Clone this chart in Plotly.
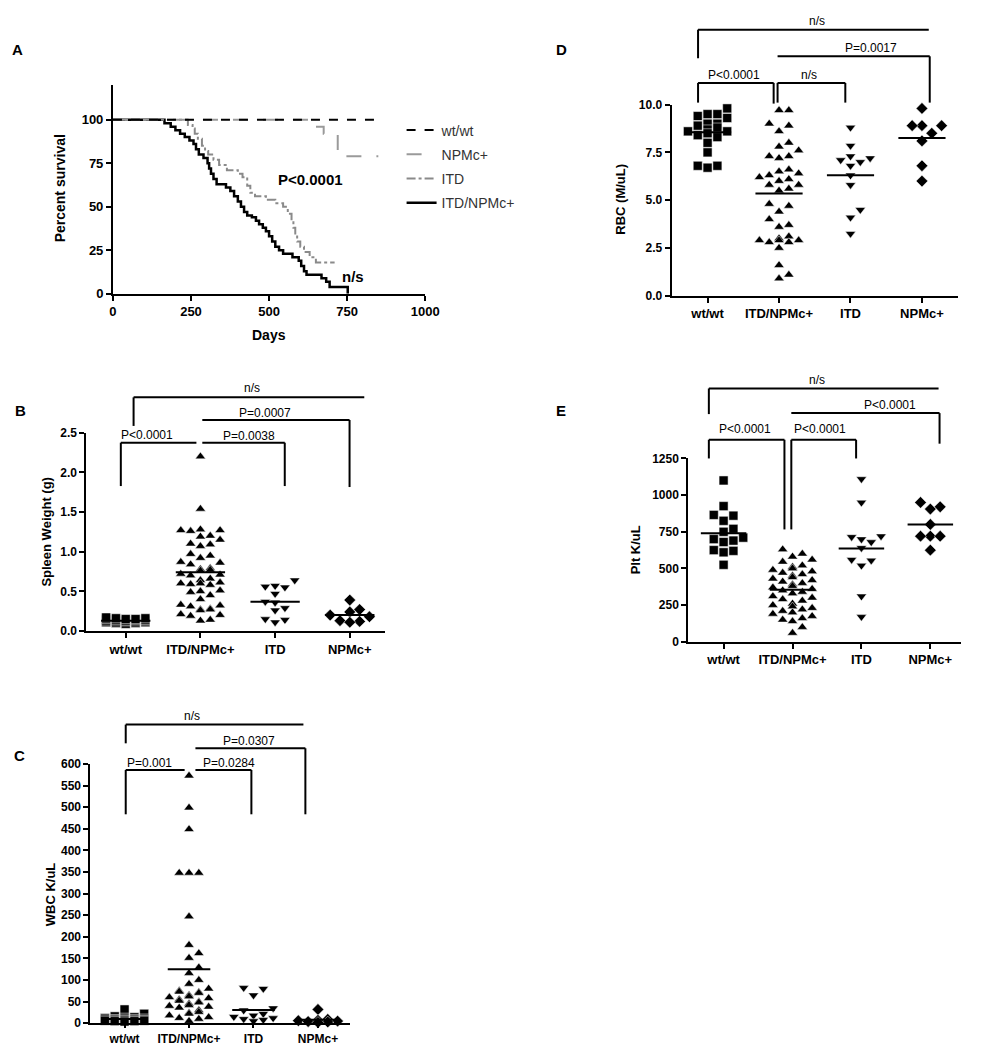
"""Survival curve and blood count dot plots for wt/wt, ITD, NPMc+ and ITD/NPMc+ mice."""
import plotly.graph_objects as go

W, H = 983, 1050
FONT = "Liberation Sans"

# ---- panel A: Kaplan-Meier survival (day, percent) ----
wt_days = [0, 850]
wt_pct = [100, 100]
npm_days = [0, 630, 632, 675, 720, 850]
npm_pct = [100, 100, 96, 92, 79, 79]
itd_days = [0, 225, 240, 255, 262, 272, 285, 295, 305, 322, 340, 365, 400, 415, 430,
            440, 455, 490, 520, 545, 560, 572, 578, 584, 590, 600, 612, 630, 650, 710]
itd_pct = [100, 100, 97, 95, 92, 89, 85, 82, 80, 77, 74, 71, 69, 67, 62,
           58, 56, 54, 52, 50, 46, 42, 38, 34, 30, 27, 24, 21, 18, 18]
dbl_days = [0, 165, 185, 200, 215, 230, 245, 258, 266, 275, 290, 303, 308, 314, 322,
            332, 362, 376, 388, 400, 410, 420, 430, 445, 458, 468, 480, 490, 500, 510,
            520, 532, 545, 575, 595, 603, 612, 620, 668, 683, 694, 752]
dbl_pct = [100, 98, 96, 94, 92, 90, 88, 86, 83, 80, 78, 75, 72, 69, 66,
           63, 61, 59, 56, 53, 50, 47, 45, 44, 42, 40, 38, 36, 33, 30,
           27, 25, 23, 21, 19, 16, 13, 11, 9, 7, 4, 0]

groups = ["wt/wt", "ITD/NPMc+", "ITD", "NPMc+"]
symbols = ["square", "triangle-up", "triangle-down", "diamond"]

# ---- panel B: spleen weight (g) ----
b_wt = [0.09, 0.10, 0.10, 0.11, 0.11, 0.12, 0.12, 0.12, 0.13, 0.13, 0.13, 0.14, 0.14,
        0.14, 0.15, 0.15, 0.15, 0.16, 0.16, 0.17]
b_dbl = [2.20, 1.54, 1.28, 1.27, 1.27, 1.26, 1.20, 1.19, 1.15, 1.10, 1.09, 1.07, 0.97,
         0.95, 0.92, 0.87, 0.86, 0.84, 0.79, 0.78, 0.77, 0.76, 0.72, 0.71, 0.70, 0.66,
         0.64, 0.61, 0.60, 0.60, 0.59, 0.58, 0.51, 0.50, 0.49, 0.45, 0.40, 0.33, 0.32,
         0.31, 0.28, 0.27, 0.27, 0.26, 0.21, 0.20, 0.19, 0.14, 0.13]
b_itd = [0.64, 0.57, 0.56, 0.55, 0.47, 0.37, 0.36, 0.29, 0.26, 0.15, 0.11, 0.14]
b_npm = [0.39, 0.27, 0.24, 0.20, 0.18, 0.13, 0.12, 0.11]
b_mean = [0.13, 0.74, 0.37, 0.20]

# ---- panel C: WBC K/uL ----
c_wt = [32, 22, 16, 14, 13, 12, 11, 10, 10, 9, 9, 8, 8, 7, 7, 6, 6, 5, 5, 4]
c_dbl = [573, 499, 449, 348, 348, 348, 247, 181, 162, 151, 129, 116, 100, 91, 80, 75,
         73, 72, 70, 65, 62, 60, 58, 55, 52, 50, 48, 45, 42, 40, 38, 36, 30, 26, 24,
         22, 18, 14, 12, 10, 5]
c_itd = [82, 80, 65, 35, 30, 22, 18, 15, 12, 10, 8, 5]
c_npm = [32, 9, 7, 6, 5, 4, 3, 2]
c_mean = [10, 125, 31, 8]

# ---- panel D: RBC (M/uL) ----
d_wt = [9.8, 9.5, 9.4, 9.5, 9.3, 9.0, 8.9, 9.0, 8.8, 8.7, 8.6, 8.5, 8.6, 8.3, 8.4,
        8.0, 7.5, 6.8, 6.7, 6.8]
d_dbl = [9.7, 9.7, 9.0, 8.6, 8.9, 8.0, 7.8, 7.6, 7.3, 7.3, 7.2, 6.6, 6.5, 6.4, 6.2,
         6.3, 6.1, 6.0, 5.8, 5.8, 5.5, 5.6, 4.8, 4.7, 4.4, 4.0, 3.7, 3.6, 3.1, 3.0,
         2.9, 2.9, 2.8, 2.8, 2.9, 2.5, 1.6, 1.1, 0.9]
d_itd = [8.8, 7.85, 7.3, 7.2, 7.1, 7.0, 6.8, 6.3, 5.8, 4.5, 4.1, 3.25]
d_npm = [9.8, 8.9, 8.9, 8.9, 8.5, 8.1, 6.8, 6.0]
d_mean = [8.55, 5.35, 6.3, 8.25]

# ---- panel E: Plt K/uL ----
e_wt = [1100, 925, 865, 860, 825, 770, 750, 710, 700, 690, 680, 625, 620, 610, 525]
e_dbl = [630, 600, 580, 560, 545, 520, 510, 500, 490, 480, 470, 460, 450, 440, 430,
         420, 410, 400, 390, 380, 370, 360, 350, 340, 330, 310, 300, 290, 280, 260,
         250, 240, 230, 220, 210, 200, 190, 175, 160, 150, 140, 100, 60]
e_itd = [1110, 950, 720, 715, 700, 680, 640, 560, 555, 520, 310, 170]
e_npm = [950, 920, 905, 800, 720, 720, 720, 625]
e_mean = [740, 355, 636, 800]


def swarm(values, center, ppx, ppy, step=10, h=8, maxk=2):
    """spread points sideways in columns where they would overlap (no randomness)"""
    order = sorted(range(len(values)), key=lambda i: values[i])
    cands = [0] + [s * k for k in range(1, maxk + 1) for s in (1, -1)]
    placed = []
    xs = [center] * len(values)
    for i in order:
        y = values[i] * ppy
        hits = {c: sum(1 for pc, yy in placed if pc == c and abs(yy - y) < h) for c in cands}
        col = next((c for c in cands if hits[c] == 0), None)
        if col is None:
            col = min(cands, key=lambda c: hits[c])
        placed.append((col, y))
        xs[i] = center + col * step / ppx
    return xs


# panel boxes in pixels: x0, x1, ytop, ybottom, xrange, yrange
panels = {
    "A": (111, 429, 79, 291, [0, 1000], [0, 120]),
    "B": (84, 388, 432, 633, [-0.526, 3.47], [0, 2.5]),
    "C": (88, 352, 768, 1031, [-0.53, 3.49], [0, 600]),
    "D": (680, 972, 99, 293, [-0.504, 3.507], [0, 10]),
    "E": (697, 975, 458, 644, [-0.513, 3.447], [0, 1250]),
}
axis_id = {"A": "", "B": "2", "C": "3", "D": "4", "E": "5"}

fig = go.Figure()

# survival curves
surv = [
    ("wt/wt", wt_days, wt_pct, "black", "dash", 2),
    ("NPMc+", npm_days, npm_pct, "#9a9a9a", "longdash", 2),
    ("ITD", itd_days, itd_pct, "#8a8a8a", "dashdot", 2),
    ("ITD/NPMc+", dbl_days, dbl_pct, "black", "solid", 2.5),
]
for rank, (name, dx, dy, col, dash, w) in reversed(list(enumerate(surv))):
    fig.add_trace(go.Scatter(x=dx, y=dy, name=name, mode="lines", line_shape="hv",
                             line=dict(color=col, dash=dash, width=w),
                             legendgroup=name, legendrank=rank + 1, cliponaxis=False))

dot_data = {
    "B": ([b_wt, b_dbl, b_itd, b_npm], b_mean),
    "C": ([c_wt, c_dbl, c_itd, c_npm], c_mean),
    "D": ([d_wt, d_dbl, d_itd, d_npm], d_mean),
    "E": ([e_wt, e_dbl, e_itd, e_npm], e_mean),
}
for key, (sets, means) in dot_data.items():
    x0, x1, yt, yb, xr, yr = panels[key]
    ppx = (x1 - x0) / (xr[1] - xr[0])
    ppy = (yb - yt) / (yr[1] - yr[0])
    n = axis_id[key]
    for i, vals in enumerate(sets):
        fig.add_trace(go.Scatter(
            x=swarm(vals, i, ppx, ppy), y=vals, mode="markers", showlegend=False,
            marker=dict(symbol=symbols[i], size=9, color="black",
                        line=dict(color="white", width=0.5)),
            cliponaxis=False, xaxis="x" + n, yaxis="y" + n))
    mx, my = [], []
    for i, m in enumerate(means):
        mx += [i - 0.33, i + 0.33, None]
        my += [m, m, None]
    fig.add_trace(go.Scatter(x=mx, y=my, mode="lines", showlegend=False,
                             line=dict(color="black", width=2), cliponaxis=False,
                             xaxis="x" + n, yaxis="y" + n))

ax_common = dict(showline=True, linecolor="black", linewidth=2, ticks="outside",
                 ticklen=5, tickwidth=2, tickcolor="black", showgrid=False,
                 zeroline=False, fixedrange=True)
tick12 = dict(family=FONT, size=12, color="black", weight="bold")
tick13 = dict(family=FONT, size=13, color="black", weight="bold")

layout = {}
for key, (x0, x1, yt, yb, xr, yr) in panels.items():
    n = axis_id[key]
    xa = dict(ax_common, domain=[x0 / W, x1 / W], range=xr, anchor="y" + n)
    ya = dict(ax_common, domain=[1 - yb / H, 1 - yt / H], range=yr, anchor="x" + n)
    if key == "A":
        xa.update(tickvals=[0, 250, 500, 750, 1000], tickfont=tick13)
        ya.update(tickvals=[0, 25, 50, 75, 100], tickfont=tick13)
    else:
        xa.update(tickvals=[0, 1, 2, 3], ticktext=groups,
                  tickfont=tick12 if key == "C" else tick13)
        ya.update(tickfont=tick12)
    layout["xaxis" + n] = xa
    layout["yaxis" + n] = ya

layout["xaxis3"].update(ticklen=3)
layout["yaxis2"].update(tickvals=[0, 0.5, 1.0, 1.5, 2.0, 2.5], tickformat=".1f")
layout["yaxis3"].update(tickvals=list(range(0, 601, 50)))
layout["yaxis4"].update(tickvals=[0, 2.5, 5, 7.5, 10], tickformat=".1f")
layout["yaxis5"].update(tickvals=[0, 250, 500, 750, 1000, 1250])

fig.update_layout(
    width=W, height=H, margin=dict(l=0, r=0, t=0, b=0),
    paper_bgcolor="white", plot_bgcolor="white",
    font=dict(family=FONT, color="black"),
    legend=dict(x=405 / W, y=1 - 109 / H, xanchor="left", yanchor="top",
                font=dict(family=FONT, size=14, color="#333333"),
                bgcolor="rgba(0,0,0,0)", tracegroupgap=3, itemwidth=30),
    **layout,
)

# significance brackets: x_left, x_right, y, left drop, right drop, label, label x, label y
brackets = [
    (132, 367, 396, 425, None, "n/s", 253, 387),
    (202, 352, 419, None, 487, "P=0.0007", 266, 412),
    (119, 196, 442, 486, None, "P<0.0001", 146, 434),
    (202, 286, 442, None, 486, "P=0.0038", 250, 435),
    (124, 305, 728, 747, None, "n/s", 192, 719),
    (195, 307, 752, None, 819, "P=0.0307", 250, 745),
    (124, 184, 774, 819, None, "P=0.001", 148, 767),
    (195, 252, 774, None, 819, "P=0.0284", 229, 767),
    (707, 942, 23, 52, None, "n/s", 828, 14),
    (788, 943, 50, None, 97, "P=0.0017", 883, 42),
    (707, 784, 77, 97, 98, "P<0.0001", 744, 69),
    (788, 857, 77, 97, 97, "n/s", 820, 69),
    (718, 952, 387, 413, None, "n/s", 828, 378),
    (802, 953, 412, None, 443, "P<0.0001", 903, 404),
    (718, 795, 439, 458, 530, "P<0.0001", 755, 428),
    (802, 868, 439, 530, 458, "P<0.0001", 831, 428),
]
line = dict(color="black", width=2)
for xl, xr_, y, dl, dr, lab, lx, ly in brackets:
    fig.add_shape(type="line", xref="paper", yref="paper", x0=xl / W, x1=xr_ / W,
                  y0=1 - y / H, y1=1 - y / H, line=line)
    if dl:
        fig.add_shape(type="line", xref="paper", yref="paper", x0=xl / W, x1=xl / W,
                      y0=1 - y / H, y1=1 - dl / H, line=line)
    if dr:
        fig.add_shape(type="line", xref="paper", yref="paper", x0=xr_ / W, x1=xr_ / W,
                      y0=1 - y / H, y1=1 - dr / H, line=line)
    fig.add_annotation(text=lab, x=lx / W, y=1 - ly / H, xref="paper", yref="paper",
                       xanchor="center", yanchor="middle", showarrow=False,
                       font=dict(family=FONT, size=12, color="black"))

# text labels: text, x, y, size, angle
labels = [
    ("A", 14, 43, 15, 0), ("D", 568, 43, 15, 0), ("B", 17, 409, 15, 0),
    ("E", 567, 409, 15, 0), ("C", 16, 759, 15, 0),
    ("Percent survival", 57, 184, 14, -90), ("Days", 270, 333, 14, 0),
    ("P<0.0001", 312, 175, 15, 0), ("n/s", 356, 273, 15, 0),
    ("Spleen Weight (g)", 43, 532, 13, -90), ("WBC K/uL", 47, 900, 13, -90),
    ("RBC (M/uL)", 628, 195, 13, -90), ("Plt K/uL", 643, 551, 13, -90),
]
for txt, x, y, size, ang in labels:
    fig.add_annotation(text=txt, x=x / W, y=1 - y / H, xref="paper", yref="paper",
                       xanchor="center", yanchor="middle", showarrow=False, textangle=ang,
                       font=dict(family=FONT, size=size, color="black", weight="bold"))

# the page body has a default margin; drop it so the figure sits at the window corner
fig.write_html("out.html", config={"displayModeBar": False},
               post_script="document.body.style.margin = '0';")
